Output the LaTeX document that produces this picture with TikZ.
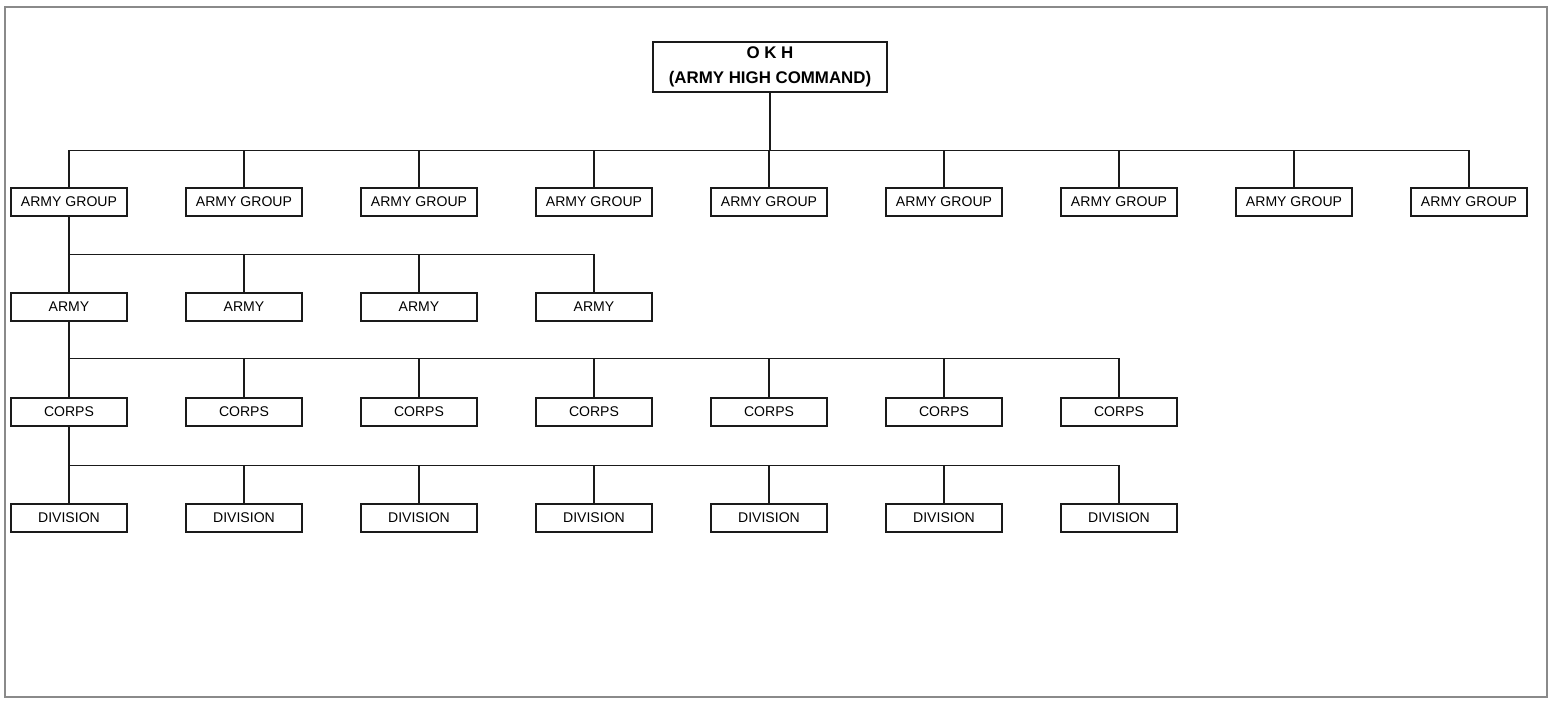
\documentclass[tikz,border=0pt]{standalone}
\usepackage{fontspec}
\setmainfont{Liberation Sans}
\usetikzlibrary{positioning, calc}
\definecolor{okframe}{HTML}{8A8A8A}
\definecolor{okline}{HTML}{1A1A1A}

\begin{document}
\begin{tikzpicture}[x=0.25mm, y=-0.25mm, font=\fontsize{10}{12}\selectfont,
    unit/.style={draw=okline, line width=0.9pt, minimum width=29mm, minimum height=7mm, inner sep=0pt},
    link/.style={okline, line width=0.9pt}]
    \useasboundingbox (0,0) rectangle (1550,702);
    \draw[okframe, line width=1pt] (5,7) rectangle (1547,697);
    \node[unit, minimum width=58.5mm, minimum height=12.5mm, align=center,
      font=\fontsize{12}{17.5}\selectfont\bfseries] (okh) at (770,67)
      {O K H\\ (ARMY HIGH COMMAND)};
    \foreach \i in {1,...,9} { \node[unit] (ag\i) at ({69+175*(\i-1)},202) {ARMY GROUP}; }
    \foreach \i in {1,...,4} { \node[unit] (army\i) at ({69+175*(\i-1)},307) {ARMY}; }
    \foreach \i in {1,...,7} { \node[unit] (corps\i) at ({69+175*(\i-1)},412) {CORPS}; }
    \foreach \i in {1,...,7} { \node[unit] (div\i) at ({69+175*(\i-1)},518) {DIVISION}; }
    \foreach \i in {1,...,9}
      \draw[link] (okh.south) -- ++(0,58) -| (ag\i.north);
    \foreach \i in {1,...,4}
      \draw[link] (ag1.south) -- ++(0,38) -| (army\i.north);
    \foreach \i in {1,...,7}
      \draw[link] (army1.south) -- ++(0,37) -| (corps\i.north);
    \foreach \i in {1,...,7}
      \draw[link] (corps1.south) -- ++(0,39) -| (div\i.north);
  \end{tikzpicture}
\end{document}
